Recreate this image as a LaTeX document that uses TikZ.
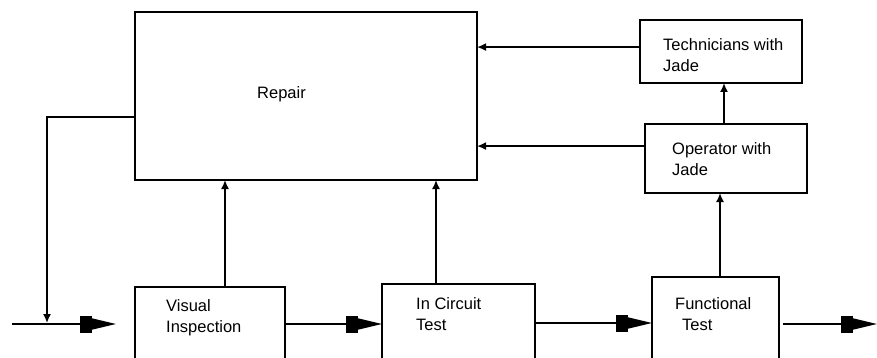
\documentclass[tikz,border=0pt]{standalone}
\usepackage{fontspec}
\setmainfont{Liberation Sans}
\usetikzlibrary{arrows.meta,calc}
\tikzset{
  box/.style={draw, line width=1.5pt, inner sep=0pt, outer sep=0pt},
  lbl/.style={anchor=north west, inner sep=0pt, align=left, font=\fontsize{16.5}{21}\selectfont},
  flow/.style={line width=1.6pt, -{Rectangle[length=12pt,width=17pt,sep=0pt]Triangle[length=24pt,width=11pt,sep=0pt]}},
  fb/.style={line width=1.6pt, -{Latex[length=9pt,width=8pt]}},
}
\begin{document}
\begin{tikzpicture}[x=1pt,y=-1pt]
\clip (0,0) rectangle (877,358);
\fill[white] (0,0) rectangle (877,358);
% boxes
\node[box, minimum width=342pt, minimum height=168pt] (repair) at (306,96) {};
\node[box, minimum width=162pt, minimum height=63pt] (tech) at (721,51.5) {};
\node[box, minimum width=162pt, minimum height=69pt] (op) at (726,158.5) {};
\node[box, minimum width=150pt, minimum height=74pt] (vi) at (210,324) {};
\node[box, minimum width=153pt, minimum height=78pt] (ict) at (458.5,323) {};
\node[box, minimum width=127pt, minimum height=85pt] (ft) at (715.5,319.5) {};
% labels
\node[lbl] (trepair) at (257,86) {Repair};
\node[lbl] (ttech) at (663,38) {Technicians with\\Jade};
\node[lbl] (top) at (672,142) {Operator with\\Jade};
\node[lbl] (tvi) at (166,299) {Visual\\Inspection};
\node[lbl] (tict) at (416,297) {In Circuit\\Test};
\node[lbl] (tft) at (675,297) {Functional\\\hspace*{7pt}Test};
% helper points on box sides
\coordinate (repairW) at ($(repair.north west)!0.625!(repair.south west)$);
\coordinate (techW) at ($(tech.north west)!0.43!(tech.south west)$);
\coordinate (opW) at ($(op.north west)!0.32!(op.south west)$);
\coordinate (ictE) at ($(ict.north east)!0.5!(ict.south east)$);
\coordinate (opN) at ([xshift=-2pt]op.north);
\coordinate (ftN) at ([xshift=4.5pt]ft.north);
\coordinate (viN) at ([xshift=15pt]vi.north);
\coordinate (ictN) at ([xshift=-22.5pt]ict.north);
% free ends
\coordinate (inS) at (12,324);
\coordinate (inE) at (116,324);
\coordinate (outS) at (783,324);
\coordinate (outE) at (877,324);
\coordinate (fbEnd) at (47,323);
% connectors
\draw[flow] (inS) -- (inE);
\draw[flow] (vi.east) -- (vi.east -| ict.west);
\draw[flow] (ictE) -- (ictE -| ft.west);
\draw[flow] (outS) -- (outE);
\draw[fb] (repairW) -| (fbEnd);
\draw[fb] (techW) -- (techW -| repair.east);
\draw[fb] (opW) -- (opW -| repair.east);
\draw[fb] (opN) -- (opN |- tech.south);
\draw[fb] (ftN) -- (ftN |- op.south);
\draw[fb] (viN) -- (viN |- repair.south);
\draw[fb] (ictN) -- (ictN |- repair.south);
\end{tikzpicture}
\end{document}
